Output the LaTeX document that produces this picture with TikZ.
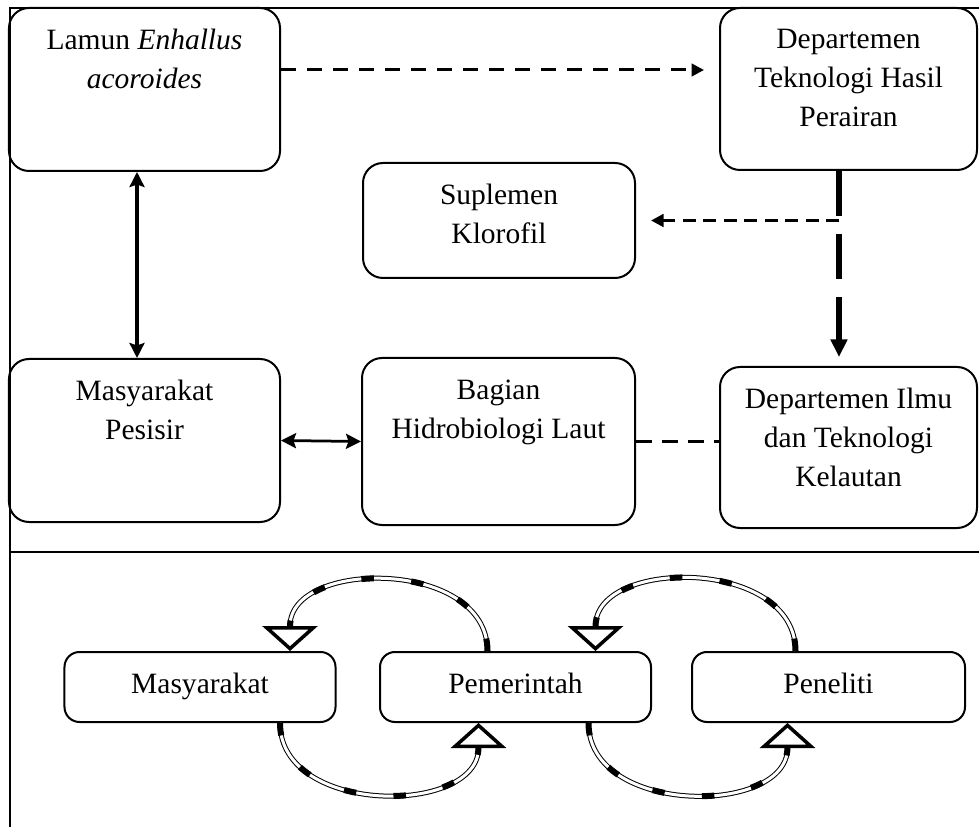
\documentclass[tikz,border=0pt]{standalone}
\usepackage{fontspec}
\setmainfont{Liberation Serif}
\usetikzlibrary{arrows.meta,calc}

\tikzset{
  kotak/.style={draw,line width=0.8pt,rounded corners=8pt,inner sep=0pt},
  kotakkecil/.style={kotak,rounded corners=6pt,minimum width=108.4pt,minimum height=28pt,text height=8pt,text depth=2.6pt},
  teks/.style={anchor=north,align=center,inner sep=0pt,yshift=-8.8pt},
  garis/.style={line width=0.7pt},
  panahdua/.style={line width=1.1pt,{Stealth[length=6pt,width=6pt,inset=1pt]}-{Stealth[length=6pt,width=6pt,inset=1pt]}},
  putus/.style={line width=1.2pt,dash pattern=on 6pt off 4.4pt,-{Triangle[length=5pt,width=5pt]},shorten >=6pt},
  putustebal/.style={line width=2.4pt,dash pattern=on 18pt off 7.2pt,-{Triangle[length=7pt,width=6.4pt]},shorten >=3.6pt},
  putustipis/.style={line width=1.2pt,dash pattern=on 5.2pt off 3pt,-{Triangle[length=5pt,width=5pt]},shorten >=6pt},
  putuspolos/.style={line width=1.2pt,dash pattern=on 6.4pt off 4pt},
  siklus/.style={line width=0.4pt,double,double distance=1.2pt,shorten >=10pt},
  siklusputus/.style={line width=2.4pt,dash pattern=on 5pt off 15pt,-{Triangle[open,length=10pt,width=22pt,line width=1.4pt]}}
}

\begin{document}
\begin{tikzpicture}[x=0.4pt,y=0.4pt,every node/.style={font=\fontsize{11.8}{15.6}\selectfont}]
\useasboundingbox (0,0) rectangle (979,827);

% Rangka
\draw[garis] (979,819) -- (10,819) -- (10,0);
\draw[garis] (10,275) -- (979,275);

% Kotak atas
\node[kotak,minimum width=108.4pt,minimum height=65.2pt] (lamun) at (144.5,737.5) {};
\node[kotak,minimum width=102.8pt,minimum height=64.8pt] (thp) at (848.5,738) {};
\node[kotak,minimum width=108.8pt,minimum height=46pt] (sup) at (499,606.5) {};
\node[kotak,minimum width=108.4pt,minimum height=65.2pt] (mp) at (144.5,386.5) {};
\node[kotak,minimum width=109.2pt,minimum height=66.8pt] (bag) at (498.5,385.5) {};
\node[kotak,minimum width=102.8pt,minimum height=64.4pt] (ilmu) at (848.5,379.5) {};

\node[teks] (lamunteks) at (lamun.north) {Lamun \textit{Enhallus}\\\textit{acoroides}};
\node[teks] (thpteks) at (thp.north) {Departemen\\Teknologi Hasil\\Perairan};
\node[teks] (supteks) at (sup.north) {Suplemen\\Klorofil};
\node[teks] (mpteks) at (mp.north) {Masyarakat\\Pesisir};
\node[teks] (bagteks) at (bag.north) {Bagian\\Hidrobiologi Laut};
\node[teks] (ilmuteks) at (ilmu.north) {Departemen Ilmu\\dan Teknologi\\Kelautan};

% Panah atas
\draw[panahdua,line width=1.3pt] ([xshift=-3pt]lamun.south) -- ([xshift=-3pt]mp.north);
\draw[panahdua] (mp.east) -- (bag.west);
\draw[putus] ([yshift=7.8pt]lamun.east) -- ([yshift=7.8pt]lamun.east -| thp.west);
\draw[putustebal] ([xshift=-3.8pt]thp.south) -- ([xshift=-3.8pt]ilmu.north);
\coordinate (cabang) at ([xshift=-3.8pt]thp.south |- sup.east);
\draw[putustipis] (cabang) -- (sup.east);
\draw[putuspolos] (bag.east) -- (bag.east -| ilmu.west);

% Kotak bawah
\node[kotakkecil] (mas) at (200,140) {Masyarakat};
\node[kotakkecil] (pem) at (515.5,140) {Pemerintah};
\node[kotakkecil,minimum width=109.2pt] (pen) at (828.5,140) {Peneliti};

% Siklus
\coordinate (a1) at ($(pem.north)+(-28,0)$);
\coordinate (b1) at ($(mas.north)+(90,0)$);
\coordinate (a2) at ($(pen.north)+(-33,0)$);
\coordinate (b2) at ($(pem.north)+(80,0)$);
\coordinate (a3) at ($(mas.south)+(80,0)$);
\coordinate (b3) at ($(pem.south)+(-37,0)$);
\coordinate (a4) at ($(pem.south)+(73,0)$);
\coordinate (b4) at ($(pen.south)+(-41,0)$);
\foreach \p/\q/\o in {a1/b1/90,a2/b2/90,a3/b3/-90,a4/b4/-90}{
  \draw[siklus] (\p) to[out=\o,in=\o,looseness=1.2] (\q);
  \draw[siklusputus] (\p) to[out=\o,in=\o,looseness=1.2] (\q);
}
\end{tikzpicture}
\end{document}
